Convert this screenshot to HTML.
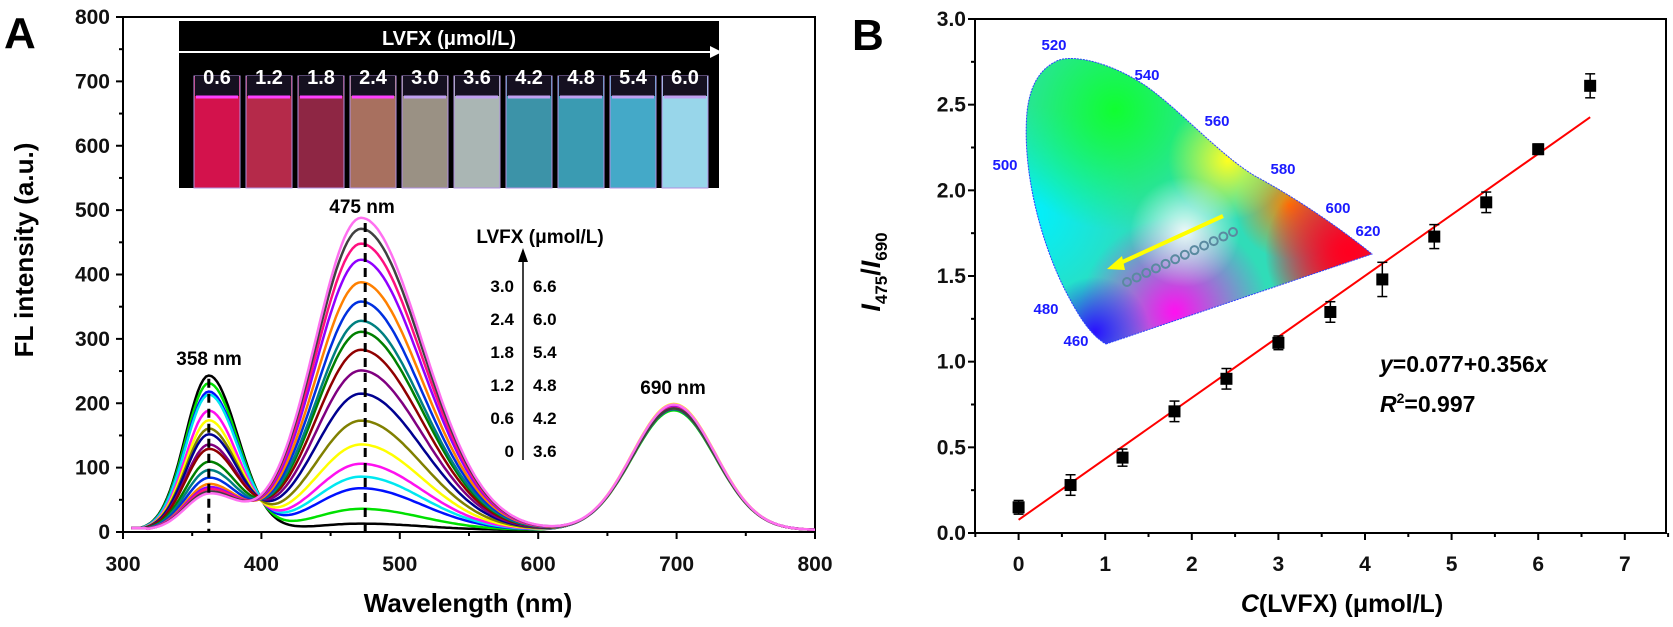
<!DOCTYPE html>
<html><head><meta charset="utf-8">
<style>
html,body{margin:0;padding:0;background:#fff;}
svg{display:block;font-family:"Liberation Sans",sans-serif;}
.tick{font-size:21px;font-weight:bold;fill:#111;}
</style></head>
<body>
<svg id="fig" width="1673" height="627" viewBox="0 0 1673 627" xmlns="http://www.w3.org/2000/svg">
<defs>
<clipPath id="clipA"><rect x="123" y="17" width="692" height="515"/></clipPath>
<clipPath id="cieClip"><path d="M1106,344 L1372,254 C1345,232 1300,200 1255,176 C1220,155 1180,110 1146,86 C1110,62 1075,55 1059,60 C1040,68 1030,85 1027,112 C1022,170 1040,240 1065,290 C1078,315 1090,335 1106,344 Z"/></clipPath>
<radialGradient id="gGreen" cx="1115" cy="110" r="120" gradientUnits="userSpaceOnUse"><stop offset="0" stop-color="#10ff30"/><stop offset="1" stop-color="#10ff30" stop-opacity="0"/></radialGradient>
<radialGradient id="gCyan" cx="1030" cy="215" r="110" gradientUnits="userSpaceOnUse"><stop offset="0" stop-color="#00f0ff"/><stop offset="1" stop-color="#00f0ff" stop-opacity="0"/></radialGradient>
<radialGradient id="gBlue" cx="1095" cy="332" r="55" gradientUnits="userSpaceOnUse"><stop offset="0" stop-color="#2a10ff"/><stop offset="1" stop-color="#2a10ff" stop-opacity="0"/></radialGradient>
<radialGradient id="gMag" cx="1175" cy="312" r="95" gradientUnits="userSpaceOnUse"><stop offset="0" stop-color="#ff10f0"/><stop offset="1" stop-color="#ff10f0" stop-opacity="0"/></radialGradient>
<radialGradient id="gRed" cx="1350" cy="252" r="85" gradientUnits="userSpaceOnUse"><stop offset="0" stop-color="#ff0020"/><stop offset="1" stop-color="#ff0020" stop-opacity="0"/></radialGradient>
<radialGradient id="gOr" cx="1290" cy="205" r="55" gradientUnits="userSpaceOnUse"><stop offset="0" stop-color="#ff8000"/><stop offset="1" stop-color="#ff8000" stop-opacity="0"/></radialGradient>
<radialGradient id="gYel" cx="1228" cy="160" r="60" gradientUnits="userSpaceOnUse"><stop offset="0" stop-color="#ffff20"/><stop offset="1" stop-color="#ffff20" stop-opacity="0"/></radialGradient>
<radialGradient id="gWhite" cx="1185" cy="232" r="55" gradientUnits="userSpaceOnUse"><stop offset="0" stop-color="#ffffff" stop-opacity="0.9"/><stop offset="1" stop-color="#ffffff" stop-opacity="0"/></radialGradient>
</defs>

<text x="4" y="48" font-size="44" font-weight="bold">A</text>
<g id="axesA"></g>
<g id="curvesA" clip-path="url(#clipA)"></g>

<g>
<rect x="179" y="21" width="540" height="167" fill="#000"/>
<text x="449" y="45" font-size="20" fill="#fff" text-anchor="middle" font-weight="bold">LVFX (μmol/L)</text>
<line x1="179" y1="52" x2="714" y2="52" stroke="#fff" stroke-width="2"/>
<polygon points="722,52 710,46 710,58" fill="#fff"/>
<g id="vials"></g>
</g>

<text x="362" y="213" font-size="19" font-weight="bold" text-anchor="middle">475 nm</text>
<text x="209" y="365" font-size="19" font-weight="bold" text-anchor="middle">358 nm</text>
<text x="673" y="394" font-size="19" font-weight="bold" text-anchor="middle">690 nm</text>

<g>
<text x="540" y="243" font-size="19" font-weight="bold" text-anchor="middle">LVFX (μmol/L)</text>
<line x1="523" y1="460" x2="523" y2="258" stroke="#000" stroke-width="1.5"/>
<polygon points="523,248 518,262 528,262" fill="#000"/>
<g id="legRows" font-size="17" font-weight="bold"></g>
</g>

<text x="852" y="50" font-size="44" font-weight="bold">B</text>
<g>
<g clip-path="url(#cieClip)">
<rect x="1000" y="40" width="400" height="320" fill="#30dcb8"/>
<rect x="1000" y="40" width="400" height="320" fill="url(#gCyan)"/>
<rect x="1000" y="40" width="400" height="320" fill="url(#gGreen)"/>
<rect x="1000" y="40" width="400" height="320" fill="url(#gMag)"/>
<rect x="1000" y="40" width="400" height="320" fill="url(#gOr)"/>
<rect x="1000" y="40" width="400" height="320" fill="url(#gRed)"/>
<rect x="1000" y="40" width="400" height="320" fill="url(#gRed)"/>
<rect x="1000" y="40" width="400" height="320" fill="url(#gYel)"/>
<rect x="1000" y="40" width="400" height="320" fill="url(#gBlue)"/>
<rect x="1000" y="40" width="400" height="320" fill="url(#gWhite)"/>
</g>
<path d="M1106,344 L1372,254 C1345,232 1300,200 1255,176 C1220,155 1180,110 1146,86 C1110,62 1075,55 1059,60 C1040,68 1030,85 1027,112 C1022,170 1040,240 1065,290 C1078,315 1090,335 1106,344 Z" fill="none" stroke="#3040ff" stroke-width="1" stroke-dasharray="2,1"/>
<g font-size="15" font-weight="bold" fill="#1a1aff">
<text x="1054" y="50" text-anchor="middle">520</text>
<text x="1147" y="80" text-anchor="middle">540</text>
<text x="1217" y="126" text-anchor="middle">560</text>
<text x="1283" y="174" text-anchor="middle">580</text>
<text x="1338" y="213" text-anchor="middle">600</text>
<text x="1368" y="236" text-anchor="middle">620</text>
<text x="1005" y="170" text-anchor="middle">500</text>
<text x="1046" y="314" text-anchor="middle">480</text>
<text x="1076" y="346" text-anchor="middle">460</text>
</g>
<line x1="1223" y1="216" x2="1118" y2="264" stroke="#ffff00" stroke-width="4"/>
<polygon points="1107,269 1122,256 1125,270" fill="#ffff00"/>
<g id="cieDots" fill="none" stroke="#5a8aa0" stroke-width="2"></g>
</g>
<g id="axesB"></g>
<g id="plotB"></g>
<text x="1380" y="372" font-size="23" font-weight="bold"><tspan font-style="italic">y</tspan>=0.077+0.356<tspan font-style="italic">x</tspan></text>
<text x="1380" y="412" font-size="23" font-weight="bold"><tspan font-style="italic">R</tspan><tspan font-size="14" dy="-9">2</tspan><tspan dy="9">=0.997</tspan></text>
</svg>

<script>
// ---------- Panel A data ----------
const aColors = ["#000000","#00e000","#0010ff","#00e8f0","#ff10f0","#ffff00","#808000","#000090","#800080","#900000","#008000","#008080","#0030e0","#ff8000","#9000ff","#ff1080","#404040","#ff70f0"];
const aPeak475 = [10,33,65,83,103,133,170,212,248,280,308,325,355,385,420,445,468,485];
const aPeak358 = [240,228,215,210,185,170,157,148,132,125,105,92,80,70,65,62,58,55];
const aPeak690 = [190,186,188,189,190,196,191,190,189,190,189,190,191,189,192,190,189,195];
const aXTicks = [300,400,500,600,700,800];
const aYTicks = [0,100,200,300,400,500,600,700,800];
const vialLabels = ["0.6","1.2","1.8","2.4","3.0","3.6","4.2","4.8","5.4","6.0"];
const vialColors = ["#d3124c","#b52a4a","#8e2644","#a8705f","#9a9184","#aab6b4","#3c93a8","#3a9bb2","#44a9c8","#98d6ea"];
const legLeft = ["3.0","2.4","1.8","1.2","0.6","0"];
const legRight = ["6.6","6.0","5.4","4.8","4.2","3.6"];

// ---------- Panel B data ----------
const bX = [0,0.6,1.2,1.8,2.4,3.0,3.6,4.2,4.8,5.4,6.0,6.6];
const bY = [0.15,0.28,0.44,0.71,0.90,1.11,1.29,1.48,1.73,1.93,2.24,2.61];
const bErr = [0.04,0.06,0.05,0.06,0.06,0.04,0.06,0.10,0.07,0.06,0.03,0.07];
const bXTicks = [0,1,2,3,4,5,6,7];
const bYTicks = [0,0.5,1.0,1.5,2.0,2.5,3.0];
const fitB = [0.077,0.356];

const NS="http://www.w3.org/2000/svg";
function mk(tag,attrs,parent){const e=document.createElementNS(NS,tag);for(const k in attrs)e.setAttribute(k,attrs[k]);parent.appendChild(e);return e;}

const AX0=123,AX1=815,AY0=532,AY1=17;
const ax=w=>AX0+(w-300)/500*(AX1-AX0);
const ay=v=>AY0-v/800*(AY0-AY1);
const gA=document.getElementById('axesA');
mk('rect',{x:AX0,y:AY1,width:AX1-AX0,height:AY0-AY1,fill:'none',stroke:'#000','stroke-width':2},gA);
aXTicks.forEach(t=>{
  mk('line',{x1:ax(t),y1:AY0,x2:ax(t),y2:AY0+7,stroke:'#000','stroke-width':2},gA);
  const tx=mk('text',{x:ax(t),y:571,'text-anchor':'middle',class:'tick'},gA);tx.textContent=t;
  
  
  if(t<800){mk('line',{x1:ax(t+50),y1:AY0,x2:ax(t+50),y2:AY0+4,stroke:'#000','stroke-width':2},gA);}
});
aYTicks.forEach(t=>{
  mk('line',{x1:AX0-7,y1:ay(t),x2:AX0,y2:ay(t),stroke:'#000','stroke-width':2},gA);
  const tx=mk('text',{x:110,y:ay(t)+7,'text-anchor':'end',class:'tick'},gA);tx.textContent=t;
  
  
  if(t<800){mk('line',{x1:AX0-4,y1:ay(t+50),x2:AX0,y2:ay(t+50),stroke:'#000','stroke-width':2},gA);}
});
let t1=mk('text',{x:468,y:612,'text-anchor':'middle','font-size':26,'font-weight':'bold'},gA);t1.textContent='Wavelength (nm)';


let t2=mk('text',{x:0,y:0,'text-anchor':'middle','font-size':26,'font-weight':'bold',transform:'translate(33,250) rotate(-90)'},gA);t2.textContent='FL intensity (a.u.)';



const gC=document.getElementById('curvesA');
function gauss(w,c,s){return Math.exp(-(w-c)*(w-c)/(2*s*s));}
for(let i=0;i<aColors.length;i++){
  let pts=[];
  for(let w=306;w<=800;w+=2){
    let v=aPeak358[i]*(w<362?gauss(w,362,17):gauss(w,362,21))+aPeak475[i]*(w<472?gauss(w,472,33):gauss(w,472,44))+aPeak690[i]*gauss(w,698,30)+3;
    if(w<318)v=Math.max(v,6);
    pts.push(ax(w).toFixed(1)+','+ay(v).toFixed(1));
  }
  const p=mk('polyline',{points:pts.join(' '),fill:'none',stroke:aColors[i],'stroke-width':2.5},gC);
  
  
}
mk('line',{x1:ax(362),y1:ay(238),x2:ax(362),y2:AY0,stroke:'#000','stroke-width':3,'stroke-dasharray':'9,6'},gC);
mk('line',{x1:ax(475),y1:ay(480),x2:ax(475),y2:AY0,stroke:'#000','stroke-width':3,'stroke-dasharray':'9,6'},gC);

const gV=document.getElementById('vials');
for(let i=0;i<vialLabels.length;i++){
  const x=194+i*52;
  const r=mk('rect',{x:x,y:76,width:46,height:112,fill:vialColors[i],stroke:'#b090e0','stroke-width':1},gV);
  
  
  mk('rect',{x:x+1,y:76,width:44,height:20,fill:'#151020'},gV);
  mk('line',{x1:x+2,y1:97,x2:x+44,y2:97,stroke:i<4?'#ff40ff':'#c0a0f0','stroke-width':3},gV);
  const t=mk('text',{x:x+23,y:84,'text-anchor':'middle','font-size':20,'font-weight':'bold',fill:'#fff'},gV);t.textContent=vialLabels[i];
  
  
}
const gL=document.getElementById('legRows');
for(let i=0;i<legLeft.length;i++){
  const y=292+i*33;
  const a=mk('text',{x:514,y:y,'text-anchor':'end'},gL);a.textContent=legLeft[i];
  
  
  const b=mk('text',{x:533,y:y},gL);b.textContent=legRight[i];
  
  
}
const gD=document.getElementById('cieDots');
for(let i=0;i<12;i++){
  const cx=1127+i*(106/11), cy=282-i*(50/11);
  mk('circle',{cx:cx,cy:cy,r:4},gD);
}

const BX0=975,BX1=1666,BY0=533,BY1=19;
const bx=v=>1018.6+v*86.6;
const by=v=>BY0-v/3*(BY0-BY1);
const gB=document.getElementById('axesB');
mk('rect',{x:BX0,y:BY1,width:BX1-BX0,height:BY0-BY1,fill:'none',stroke:'#000','stroke-width':2},gB);
bXTicks.forEach(t=>{
  mk('line',{x1:bx(t),y1:BY0,x2:bx(t),y2:BY0+7,stroke:'#000','stroke-width':2},gB);
  mk('line',{x1:bx(t+0.5),y1:BY0,x2:bx(t+0.5),y2:BY0+4,stroke:'#000','stroke-width':2},gB);
  const tx=mk('text',{x:bx(t),y:571,'text-anchor':'middle',class:'tick'},gB);tx.textContent=t;
  
  
});
mk('line',{x1:bx(-0.5),y1:BY0,x2:bx(-0.5),y2:BY0+4,stroke:'#000','stroke-width':2},gB);
bYTicks.forEach(t=>{
  mk('line',{x1:BX0-7,y1:by(t),x2:BX0,y2:by(t),stroke:'#000','stroke-width':2},gB);
  if(t<3)mk('line',{x1:BX0-4,y1:by(t+0.25),x2:BX0,y2:by(t+0.25),stroke:'#000','stroke-width':2},gB);
  const tx=mk('text',{x:966,y:by(t)+7,'text-anchor':'end',class:'tick'},gB);tx.textContent=t.toFixed(1);
  
  
});
let bt=mk('text',{x:1342,y:612,'text-anchor':'middle','font-size':25,'font-weight':'bold'},gB);
bt.innerHTML='<tspan font-style="italic">C</tspan>(LVFX)  (μmol/L)';


let byt=mk('text',{x:0,y:0,'text-anchor':'middle','font-size':27,'font-weight':'bold',transform:'translate(880,272) rotate(-90)'},gB);
byt.innerHTML='<tspan font-style="italic">I</tspan><tspan font-size="17" dy="7">475</tspan><tspan dy="-7">/</tspan><tspan font-style="italic">I</tspan><tspan font-size="17" dy="7">690</tspan>';



const gP=document.getElementById('plotB');
const fl=mk('line',{x1:bx(0),y1:by(fitB[0]),x2:bx(6.6),y2:by(fitB[0]+fitB[1]*6.6),stroke:'#ff0000','stroke-width':2},gP);


for(let i=0;i<bX.length;i++){
  const x=bx(bX[i]);
  mk('line',{x1:x,y1:by(bY[i]+bErr[i]),x2:x,y2:by(bY[i]-bErr[i]),stroke:'#000','stroke-width':1.5},gP);
  mk('line',{x1:x-5,y1:by(bY[i]+bErr[i]),x2:x+5,y2:by(bY[i]+bErr[i]),stroke:'#000','stroke-width':1.5},gP);
  mk('line',{x1:x-5,y1:by(bY[i]-bErr[i]),x2:x+5,y2:by(bY[i]-bErr[i]),stroke:'#000','stroke-width':1.5},gP);
  const r=mk('rect',{x:x-6,y:by(bY[i])-6,width:12,height:12,fill:'#000'},gP);
  
  
}
</script>
</body></html>
